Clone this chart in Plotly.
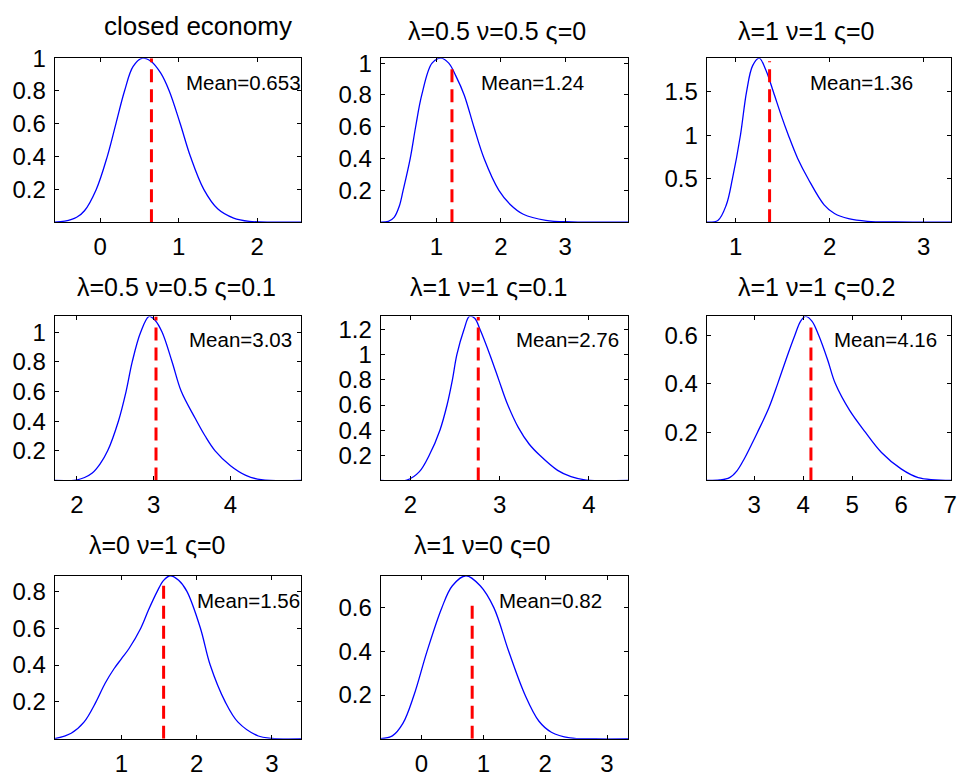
import plotly.graph_objects as go

# ---------------- data ----------------
titles = ["closed economy", "λ=0.5 ν=0.5 ς=0", "λ=1 ν=1 ς=0",
          "λ=0.5 ν=0.5 ς=0.1", "λ=1 ν=1 ς=0.1", "λ=1 ν=1 ς=0.2",
          "λ=0 ν=1 ς=0", "λ=1 ν=0 ς=0"]

means = [0.653, 1.24, 1.36, 3.03, 2.76, 4.16, 1.56, 0.82]
mean_line_top = [1.0, 0.99, 1.85, 1.107, 1.30, 0.648, 0.855, 0.634]

x1 = [-0.58, -0.45, -0.3, -0.2, -0.05, 0.09, 0.2, 0.31, 0.42, 0.54, 0.65, 0.77, 0.88, 1.02, 1.15, 1.32, 1.5, 1.7, 1.9, 2.2, 2.56]
y1 = [0, 0.006, 0.03, 0.07, 0.2, 0.4, 0.6, 0.8, 0.95, 1.0, 0.98, 0.91, 0.8, 0.6, 0.4, 0.2, 0.08, 0.025, 0.005, 0, 0]

x2 = [0.13, 0.25, 0.34, 0.42, 0.48, 0.59, 0.675, 0.77, 0.93, 1.07, 1.19, 1.3, 1.43, 1.58, 1.74, 1.97, 2.15, 2.35, 2.7, 3.1, 3.98]
y2 = [0, 0.005, 0.03, 0.1, 0.2, 0.4, 0.6, 0.8, 1.0, 1.031, 1.0, 0.92, 0.8, 0.6, 0.4, 0.2, 0.11, 0.05, 0.012, 0.002, 0]

x3 = [0.69, 0.81, 0.9, 0.965, 1.05, 1.115, 1.18, 1.25, 1.32, 1.4, 1.48, 1.56, 1.66, 1.77, 1.94, 2.05, 2.2, 2.4, 2.7, 3.29]
y3 = [0, 0.02, 0.2, 0.5, 1.0, 1.5, 1.8, 1.886, 1.75, 1.5, 1.24, 1.0, 0.73, 0.5, 0.2, 0.1, 0.04, 0.01, 0.002, 0]

x4 = [1.71, 1.99, 2.1, 2.2, 2.3, 2.4, 2.54, 2.64, 2.72, 2.83, 2.94, 3.02, 3.11, 3.24, 3.36, 3.54, 3.67, 3.8, 4.0, 4.2, 4.4, 4.92]
y4 = [0, 0.003, 0.02, 0.05, 0.11, 0.2, 0.4, 0.6, 0.8, 1.0, 1.107, 1.08, 1.0, 0.8, 0.6, 0.42, 0.3, 0.2, 0.1, 0.035, 0.005, 0]

x5 = [1.665, 1.96, 2.1, 2.21, 2.33, 2.41, 2.47, 2.52, 2.6, 2.66, 2.72, 2.78, 2.89, 2.99, 3.08, 3.21, 3.33, 3.45, 3.65, 3.8, 3.97, 4.44]
y5 = [0, 0.003, 0.07, 0.2, 0.4, 0.6, 0.8, 1.0, 1.2, 1.304, 1.29, 1.2, 1.0, 0.8, 0.62, 0.42, 0.29, 0.2, 0.08, 0.03, 0.003, 0]

x6 = [2.03, 2.3, 2.5, 2.65, 2.8, 2.95, 3.07, 3.3, 3.48, 3.65, 3.83, 3.95, 4.05, 4.18, 4.32, 4.5, 4.66, 4.95, 5.27, 5.6, 6.0, 6.35, 7.02]
y6 = [0, 0.002, 0.012, 0.04, 0.09, 0.15, 0.2, 0.3, 0.4, 0.5, 0.6, 0.66, 0.679, 0.66, 0.6, 0.5, 0.4, 0.29, 0.2, 0.116, 0.048, 0.012, 0]

x7 = [0.11, 0.33, 0.5, 0.66, 0.78, 0.9, 1.0, 1.1, 1.256, 1.36, 1.475, 1.56, 1.65, 1.76, 1.87, 2.05, 2.18, 2.38, 2.55, 2.82, 3.0, 3.39]
y7 = [0, 0.03, 0.09, 0.2, 0.3, 0.38, 0.435, 0.49, 0.6, 0.7, 0.8, 0.86, 0.885, 0.86, 0.8, 0.6, 0.4, 0.2, 0.09, 0.015, 0.002, 0]

x8 = [-0.66, -0.47, -0.3, -0.12, 0.09, 0.33, 0.5, 0.72, 0.95, 1.17, 1.41, 1.675, 1.9, 2.1, 2.4, 2.8, 3.34]
y8 = [0, 0.013, 0.07, 0.2, 0.4, 0.6, 0.7, 0.746, 0.7, 0.6, 0.4, 0.2, 0.08, 0.03, 0.004, 0, 0]

xs = [x1, x2, x3, x4, x5, x6, x7, x8]
ys = [y1, y2, y3, y4, y5, y6, y7, y8]

x_ticks = [[0, 1, 2], [1, 2, 3], [1, 2, 3], [2, 3, 4], [2, 3, 4], [3, 4, 5, 6, 7], [1, 2, 3], [0, 1, 2, 3]]
y_ticks = [[0.2, 0.4, 0.6, 0.8, 1], [0.2, 0.4, 0.6, 0.8, 1], [0.5, 1, 1.5],
           [0.2, 0.4, 0.6, 0.8, 1], [0.2, 0.4, 0.6, 0.8, 1, 1.2], [0.2, 0.4, 0.6],
           [0.2, 0.4, 0.6, 0.8], [0.2, 0.4, 0.6]]

# ---------------- layout geometry ----------------
W, H = 966, 780
col_px = [(55, 303), (383, 632), (711, 957)]
row_px = [(45, 212), (308, 475), (572, 738)]
panel_pos = [(0, 0), (0, 1), (0, 2), (1, 0), (1, 1), (1, 2), (2, 0), (2, 1)]
title_px = [(199.5, 20.7), (500, 25), (810.8, 25),
            (177.5, 286), (491.7, 286), (821.3, 286),
            (157.5, 549), (485, 549)]
title_fs = [26, 25, 25, 25, 25, 25, 25, 25]
mean_txt_frac = [(0.524, 0.85), (0.396, 0.85), (0.413, 0.85),
                 (0.537, 0.858), (0.537, 0.858), (0.511, 0.858),
                 (0.568, 0.85), (0.47, 0.85)]

FONT = "Liberation Sans, Arial, Helvetica, sans-serif"
TICK_FS = 24
MEAN_FS = 20.5

fig = go.Figure()
layout = dict(width=W, height=H, margin=dict(l=0, r=0, t=0, b=0),
              paper_bgcolor="white", plot_bgcolor="white", showlegend=False,
              font=dict(family=FONT, color="black"))
annotations = []

for i in range(8):
    r, c = panel_pos[i]
    ax = "" if i == 0 else str(i + 1)
    xr = "x" + ax
    yr = "y" + ax
    fig.add_trace(go.Scatter(x=xs[i], y=ys[i], mode="lines",
                             line=dict(color="#0000ff", width=1.3, shape="spline", smoothing=1.0),
                             xaxis=xr, yaxis=yr, hoverinfo="skip"))
    fig.add_trace(go.Scatter(x=[means[i], means[i]], y=[0, mean_line_top[i]], mode="lines",
                             line=dict(color="#ff0000", width=3, dash="13px,7px"),
                             xaxis=xr, yaxis=yr, hoverinfo="skip"))
    x0, x1p = col_px[c]
    ytop, ybot = row_px[r]
    common = dict(showgrid=False, zeroline=False, showline=True, linecolor="black", linewidth=1,
                  mirror="ticks", ticks="inside", ticklen=4, tickcolor="black", tickwidth=1,
                  tickfont=dict(family=FONT, size=TICK_FS, color="black"))
    layout["xaxis" + ax] = dict(domain=[x0 / W, x1p / W], anchor=yr, range=[min(xs[i]), max(xs[i])],
                                tickmode="array", tickvals=x_ticks[i], ticktext=[f"{v:g}" for v in x_ticks[i]],
                                ticklabelstandoff=3, **common)
    layout["yaxis" + ax] = dict(domain=[1 - ybot / H, 1 - ytop / H], anchor=xr, range=[0, max(ys[i])],
                                tickmode="array", tickvals=y_ticks[i], ticktext=[f"{v:g}" for v in y_ticks[i]],
                                ticklabelstandoff=3, **common)
    tx, tb = title_px[i]
    annotations.append(dict(text=titles[i], xref="paper", yref="paper", x=tx / W,
                            y=1 - (tb - 0.32 * title_fs[i]) / H, xanchor="center", yanchor="middle",
                            showarrow=False, font=dict(family=FONT, size=title_fs[i], color="black")))
    fx, fy = mean_txt_frac[i]
    annotations.append(dict(text=f"Mean={means[i]:.3g}", xref=xr + " domain", yref=yr + " domain",
                            x=fx, y=fy, xanchor="left", yanchor="middle", showarrow=False,
                            font=dict(family=FONT, size=MEAN_FS, color="black")))

layout["annotations"] = annotations
fig.update_layout(**layout)
fig.write_html("out.html")
